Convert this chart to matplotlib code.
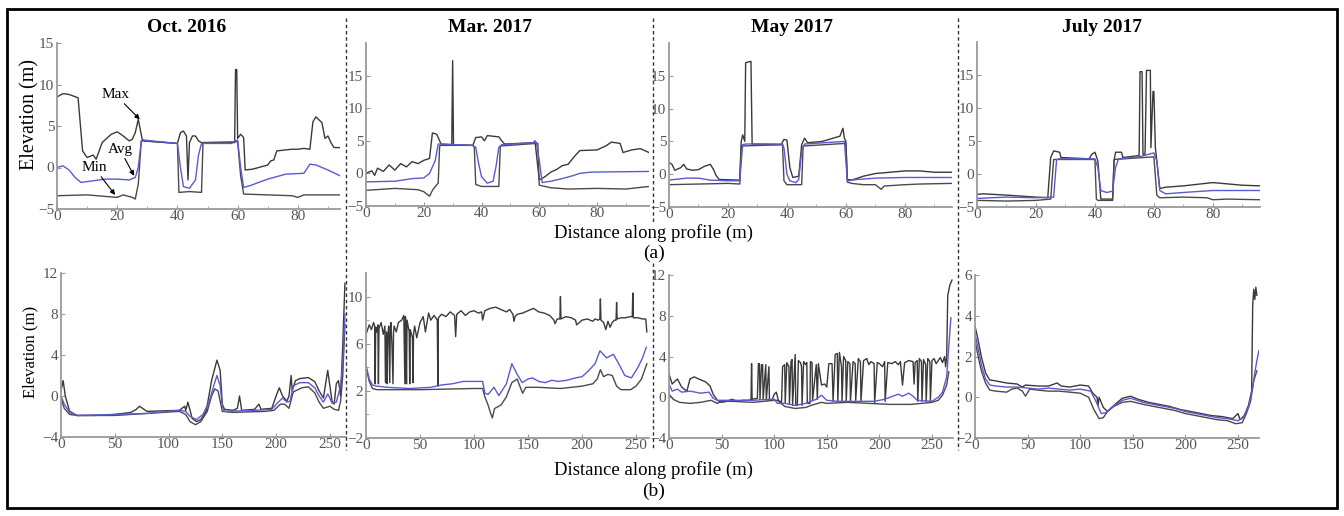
import matplotlib
matplotlib.use('Agg')
import matplotlib.pyplot as plt
from matplotlib.patches import Rectangle
from matplotlib.lines import Line2D

plt.rcParams['font.family'] = ['Liberation Serif', 'DejaVu Serif']

W, H = 1344, 516

# ---------------- (a) short profiles ----------------
oct_a_max_x = [0, 2, 4, 7, 8.5, 10, 12, 13, 15, 18, 20, 22, 24, 25, 26, 27, 27.8, 28.3, 29, 40, 41, 42, 43, 43.5, 44, 45, 46, 47, 48, 59, 59.3, 59.7, 60, 61, 62, 62.5, 65, 70, 71, 72, 73, 78, 80, 82, 84, 85, 86, 88, 89, 90, 91, 92, 94]
oct_a_max_y = [8.5, 8.9, 8.8, 8.4, 2.0, 1.2, 1.5, 1.0, 3.0, 4.0, 4.3, 3.8, 3.2, 3.4, 4.2, 5.8, 4.3, 3.4, 3.2, 2.9, 4.2, 4.4, 3.8, -1.5, 3.0, 3.8, 3.8, 3.2, 3.0, 3.0, 11.8, 11.8, 3.5, 4.0, 3.6, -0.3, -0.2, 0.3, 0.8, 0.9, 2.0, 2.2, 2.2, 2.3, 2.2, 5.5, 6.1, 5.4, 3.5, 3.8, 3.0, 2.4, 2.4]
oct_a_avg_x = [0, 2, 4, 6, 8, 12, 16, 20, 24, 26, 27, 28, 29, 40, 41, 42, 44, 46, 47, 48, 58, 59, 60, 61, 62, 64, 70, 76, 82, 84, 86, 90, 94]
oct_a_avg_y = [0.0, 0.2, -0.3, -1.2, -1.8, -1.6, -1.4, -1.4, -1.5, -1.2, 0.0, 3.2, 3.3, 2.9, 0.0, -2.3, -2.5, -1.5, 1.5, 2.9, 2.9, 3.2, 3.3, 0.0, -2.4, -2.2, -1.4, -0.8, -0.7, 0.4, 0.3, -0.3, -1.0]
oct_a_min_x = [0, 10, 20, 22, 25, 26, 27, 28, 29, 40, 40.5, 44, 48, 48.5, 60, 61, 62, 70, 78, 80, 82, 94]
oct_a_min_y = [-3.4, -3.3, -3.6, -3.3, -3.6, -3.8, -2.0, 3.2, 3.2, 2.9, -3.0, -2.9, -3.0, 3.0, 3.1, -1.0, -3.2, -3.3, -3.4, -3.6, -3.3, -3.3]

mar_a_max_x = [0, 2, 3, 4, 6, 8, 10, 12, 14, 16, 18, 20, 22, 23, 24.5, 26, 29.7, 30, 30.3, 37, 38, 40, 41, 42, 44, 46, 47, 48, 58, 58.5, 60, 62, 64, 66, 68, 70, 72, 74, 80, 83, 85, 88, 89, 92, 95, 98]
mar_a_max_y = [0.0, 0.4, -0.3, 0.8, 0.3, 1.3, 0.5, 1.5, 1.0, 1.8, 1.5, 2.0, 2.3, 6.2, 6.0, 4.5, 4.4, 17.3, 4.4, 4.3, 5.5, 5.6, 5.0, 5.8, 5.7, 5.6, 5.0, 4.5, 4.7, 5.0, -1.0, -0.5, 0.2, 0.6, 1.2, 1.4, 2.5, 3.5, 3.6, 4.2, 4.8, 4.6, 3.2, 3.6, 3.8, 3.2]
mar_a_avg_x = [0, 10, 16, 20, 22, 24, 25, 26, 37, 38, 39, 40, 42, 44, 45, 46, 47, 58, 59, 60, 61, 64, 68, 72, 74, 78, 98]
mar_a_avg_y = [-1.3, -1.2, -0.8, -0.7, 0.0, 2.0, 4.5, 4.5, 4.3, 4.0, 1.5, -0.5, -1.5, -1.2, 1.0, 4.0, 4.4, 4.7, 4.8, 2.0, -1.4, -1.2, -0.8, -0.3, 0.0, 0.2, 0.3]
mar_a_min_x = [0, 10, 18, 20, 22, 23, 24, 25, 25.5, 26, 37, 37.5, 38, 40, 46, 46.5, 59, 59.5, 60, 64, 70, 80, 90, 98]
mar_a_min_y = [-2.6, -2.3, -2.5, -2.8, -3.5, -2.6, -2.0, -1.5, 4.2, 4.3, 4.3, 4.0, -1.7, -2.0, -2.0, 4.2, 4.6, 4.6, -1.8, -2.2, -2.4, -2.3, -2.4, -2.0]

may_a_max_x = [0, 1, 2, 4, 5, 6, 8, 10, 12, 14, 15, 16, 17, 24, 24.5, 25, 25.7, 26, 27.8, 28.2, 38, 39, 40, 41, 42, 44, 45, 46, 47, 52, 58, 59, 59.5, 60, 60.5, 62, 66, 70, 75, 80, 85, 90, 96]
may_a_max_y = [1.8, 1.5, 0.6, 1.0, 1.5, 0.8, 0.6, 0.7, 1.2, 1.5, 0.8, -0.2, -0.8, -0.9, 5.0, 6.0, 5.0, 17.0, 17.2, 4.6, 4.5, 5.3, 5.2, 1.0, -0.5, -0.3, 4.5, 5.5, 4.8, 5.0, 5.8, 7.0, 5.5, 5.0, -0.8, -0.9, -0.3, 0.1, 0.3, 0.5, 0.5, 0.3, 0.3]
may_a_avg_x = [0, 6, 10, 14, 20, 24, 25, 26, 38.5, 39, 40, 41, 43, 44, 45, 46, 59.5, 60.5, 64, 70, 80, 96]
may_a_avg_y = [-0.9, -0.6, -0.6, -0.9, -1.0, -1.0, 4.5, 4.6, 4.6, 4.0, 0.0, -1.0, -1.3, -0.8, 3.5, 4.6, 5.0, -1.0, -0.8, -0.6, -0.5, -0.5]
may_a_min_x = [0, 10, 20, 24, 24.5, 38.5, 39, 40, 45, 45.5, 60, 60.5, 62, 66, 70, 72, 73, 80, 85, 96]
may_a_min_y = [-1.6, -1.5, -1.4, -1.5, 4.3, 4.5, -1.0, -1.6, -1.6, 4.3, 4.7, -1.2, -1.4, -1.6, -1.6, -2.3, -1.8, -1.6, -1.5, -1.4]

jul_a_max_x = [0, 2, 10, 20, 24, 25, 26, 28, 28.5, 38, 39, 40, 41, 42, 46, 46.5, 47, 49, 49.5, 55, 55.3, 56, 56.3, 57, 57.5, 58.8, 59, 59.7, 60, 60.5, 61, 62, 64, 70, 80, 85, 90, 96]
jul_a_max_y = [-3.1, -3.0, -3.2, -3.5, -3.6, 2.5, 3.5, 3.3, 2.5, 2.3, 3.0, 3.3, 2.0, -3.8, -3.8, 2.0, 3.3, 3.3, 2.5, 2.8, 15.5, 15.5, 3.0, 3.0, 15.7, 15.7, 4.0, 12.5, 12.5, 4.0, 2.0, -2.2, -2.0, -1.8, -1.3, -1.5, -1.7, -1.8]
jul_a_avg_x = [0, 10, 20, 26, 27, 28, 40, 41, 42, 44, 46, 47, 48, 55, 60, 61, 62, 64, 70, 80, 96]
jul_a_avg_y = [-3.7, -3.5, -3.6, -3.5, 2.2, 2.3, 2.3, 1.0, -2.5, -2.8, -2.6, 1.0, 2.3, 2.6, 3.2, 2.0, -2.5, -3.0, -2.8, -2.5, -2.5]
jul_a_min_x = [0, 10, 20, 25, 26, 40, 40.5, 41, 46, 46.5, 60, 61, 62, 70, 78, 80, 85, 96]
jul_a_min_y = [-4.0, -4.1, -4.0, -3.8, 2.2, 2.2, -3.8, -4.0, -4.0, 2.2, 2.6, -3.2, -3.6, -3.5, -3.6, -3.9, -3.8, -3.9]

# ---------------- (b) long profiles ----------------
oct_b_max_x = [0, 2, 4, 8, 15, 30, 50, 65, 70, 73, 80, 110, 115, 116, 118, 122, 126, 130, 135, 140, 145, 148, 150, 152, 160, 164, 166, 168, 180, 184, 186, 196, 200, 203, 206, 210, 212, 214, 215, 218, 222, 230, 236, 240, 244, 248, 250, 252, 254, 256, 258, 260, 262, 264]
oct_b_max_y = [0.5, 1.5, 0.0, -1.5, -1.9, -1.9, -1.8, -1.6, -1.3, -1.0, -1.5, -1.4, -1.0, -1.4, -0.6, -2.2, -2.5, -2.3, -1.5, 1.5, 3.5, 2.5, -0.8, -1.3, -1.4, -1.2, 0.0, -1.4, -1.3, -0.8, -1.3, -1.2, 0.0, 0.8, 0.0, -0.5, 0.0, 2.0, 0.5, 1.5, 1.7, 1.8, 1.4, 0.5, -0.2, 2.5, 1.0, -0.5, -0.8, 1.2, 1.5, 0.0, 5.0, 11.0]
oct_b_avg_x = [0, 3, 8, 15, 50, 80, 110, 116, 120, 126, 132, 138, 142, 145, 148, 150, 152, 180, 196, 202, 206, 210, 213, 216, 222, 230, 236, 240, 244, 248, 250, 252, 256, 260, 262, 264]
oct_b_avg_y = [0.0, -0.8, -1.6, -1.9, -1.8, -1.7, -1.4, -1.5, -2.0, -2.3, -1.8, -0.5, 1.0, 2.0, 1.0, -1.0, -1.5, -1.4, -1.3, -0.6, -0.2, -0.6, -0.5, 1.0, 1.3, 1.3, 0.8, 0.0, -0.6, 0.2, -0.2, -0.7, -0.6, 1.0, 3.0, 8.0]
oct_b_min_x = [0, 3, 8, 15, 50, 80, 110, 116, 120, 125, 130, 136, 140, 143, 146, 148, 150, 160, 190, 198, 204, 208, 212, 216, 224, 230, 236, 240, 244, 250, 254, 258, 260, 262, 264]
oct_b_min_y = [-0.2, -1.2, -1.8, -1.9, -1.9, -1.7, -1.5, -1.8, -2.5, -2.8, -2.5, -1.5, 0.0, 0.7, 0.5, -0.5, -1.5, -1.6, -1.5, -1.4, -0.8, -0.8, -1.2, 0.4, 0.8, 0.9, 0.3, -0.6, -1.2, -1.0, -1.3, -1.4, -0.5, 2.0, 7.0]

mar_b_max_x = [0, 3, 5, 7, 8, 8.5, 9, 10, 11, 11.5, 12, 14, 16, 17.5, 18, 19, 19.5, 20, 21, 22, 22.5, 23, 24, 25, 25.5, 26, 28, 30, 33, 35, 36, 36.5, 37, 37.5, 38, 40, 40.5, 41, 43, 43.5, 44, 45, 47, 50, 53, 55, 58, 60, 63, 66, 66.5, 67, 70, 74, 78, 82, 83, 84, 88, 92, 96, 100, 104, 107, 108, 110, 115, 120, 125, 130, 133, 136, 137, 138, 140, 145, 150, 155, 160, 165, 170, 174, 175, 177, 179.5, 180, 180.5, 185, 190, 194, 195, 200, 205, 210, 212, 215, 216.5, 217, 217.5, 220, 222, 224, 226, 228, 230, 231.5, 232, 232.5, 236, 240, 245, 246.5, 247, 247.5, 252, 256, 259, 260]
mar_b_max_y = [6.8, 7.6, 7.2, 7.8, 7.5, 2.6, 7.4, 7.0, 7.6, 2.6, 7.3, 7.8, 6.8, 7.5, 2.7, 7.0, 2.6, 6.5, 7.5, 2.7, 7.2, 7.8, 6.0, 2.6, 7.0, 7.5, 7.0, 7.8, 8.0, 8.4, 2.6, 8.3, 7.5, 2.6, 8.0, 7.0, 2.6, 7.2, 6.5, 2.7, 6.8, 7.5, 6.5, 7.8, 8.3, 7.0, 8.6, 8.0, 8.4, 8.0, 2.4, 8.2, 8.5, 8.3, 8.7, 8.4, 6.6, 8.5, 8.8, 8.4, 8.7, 8.8, 8.6, 8.7, 8.0, 8.8, 9.0, 9.1, 8.9, 8.7, 8.9, 8.5, 7.9, 8.3, 8.5, 8.6, 8.8, 9.0, 8.7, 8.6, 8.4, 8.0, 7.7, 8.1, 8.1, 10.0, 8.1, 8.3, 8.2, 8.0, 7.6, 8.0, 8.1, 7.9, 8.1, 8.0, 8.1, 9.8, 8.0, 7.8, 7.2, 7.9, 7.4, 7.8, 8.0, 8.0, 9.5, 8.1, 8.2, 8.2, 8.3, 8.3, 10.3, 8.2, 8.2, 8.1, 8.1, 7.0]
mar_b_avg_x = [0, 3, 6, 10, 20, 40, 60, 70, 80, 90, 100, 108, 110, 113, 118.5, 123, 130, 135, 140, 144.6, 150, 154, 160, 166, 172, 178, 186, 194, 200, 206, 212, 216.6, 222.7, 229, 234, 239.6, 245.7, 251.8, 256, 259.5]
mar_b_avg_y = [4.2, 3.0, 2.5, 2.4, 2.3, 2.2, 2.3, 2.5, 2.6, 2.8, 2.8, 2.8, 1.8, 1.7, 2.3, 1.6, 2.6, 4.3, 3.4, 2.7, 3.0, 3.1, 2.8, 2.7, 2.9, 2.8, 2.9, 3.1, 3.2, 3.7, 4.3, 5.4, 4.8, 5.1, 4.3, 3.3, 3.1, 4.0, 4.8, 5.7]
mar_b_min_x = [0, 3, 6, 10, 50, 100, 108, 110, 113, 115, 117, 119, 125, 130, 135, 140, 142, 145, 148, 160, 180, 200, 210, 214, 217, 220, 224, 228, 232, 236, 245, 250, 255, 260]
mar_b_min_y = [4.0, 2.8, 2.2, 2.1, 2.1, 2.2, 2.2, 1.5, 0.8, 0.2, -0.3, 0.5, 0.8, 1.5, 2.7, 3.0, 2.5, 1.8, 2.3, 2.3, 2.2, 2.4, 2.6, 3.0, 3.8, 3.2, 3.4, 3.3, 2.4, 2.1, 2.1, 2.4, 3.0, 4.3]

may_b_max_x = [0, 3, 8, 12, 17, 20, 24, 28, 35, 39, 42, 46, 50, 55, 60, 65, 70, 76, 78, 78.5, 79, 84, 85, 86, 86.5, 88, 89, 89.5, 92, 92.5, 95, 95.5, 98, 100, 102, 104, 107, 108, 110, 110.5, 112, 114, 114.5, 116, 117, 117.5, 120, 120.5, 122, 123, 125, 126, 126.5, 128, 130, 131, 131.5, 134, 134.5, 136, 136.5, 140, 141, 142, 145, 148, 150, 152, 155, 156, 158, 160, 160.5, 162, 164, 164.5, 166, 168, 168.5, 170, 172, 172.5, 175, 177, 177.5, 180, 182, 182.5, 185, 188, 190, 192, 195, 195.5, 198, 200, 203, 205, 205.5, 208, 212, 215, 218, 220, 222, 224, 228, 232, 233, 234, 236, 236.5, 238, 240, 240.5, 242, 244, 244.5, 246, 248, 248.5, 250, 252, 254, 256, 258, 260, 262, 263, 264, 265, 267, 269]
may_b_max_y = [2.3, 1.3, 1.8, 1.0, 0.6, 1.8, 2.0, 1.8, 1.5, 1.1, 0.3, -0.3, -0.5, -0.4, -0.2, -0.4, -0.3, -0.3, -0.2, 3.3, -0.2, -0.1, 3.3, 3.3, -0.2, 3.2, 3.2, -0.2, 3.2, -0.3, 3.0, -0.3, -0.3, 0.3, 0.5, -0.3, -0.5, 3.0, 3.2, -0.6, 3.4, 3.0, -0.7, 3.5, 3.7, -0.8, 4.2, -0.8, -0.8, 3.6, 3.4, 3.0, -0.8, 3.5, 3.2, 3.4, -0.6, -0.6, 3.5, 3.4, -0.3, 3.2, -0.2, 3.3, 1.2, 1.3, 1.0, 3.3, 3.3, -0.4, 4.2, 4.3, -0.4, 4.4, 3.0, -0.4, 4.0, 3.6, -0.4, 3.5, 3.3, -0.4, 3.5, 3.3, -0.3, 3.8, 3.5, -0.4, 3.6, 3.8, 3.2, 3.5, 3.3, -0.6, 3.4, 3.3, 3.0, 3.5, -0.4, 3.4, 3.3, 3.5, 3.2, 3.5, 1.2, 3.4, 3.6, 3.5, 1.3, 3.4, 3.6, -0.4, 3.8, 3.5, -0.4, 3.7, 3.2, -0.4, 3.8, 3.5, -0.4, 3.6, 3.8, 3.3, 3.6, 3.9, 3.4, 4.0, 3.0, 4.0, 10.0, 11.0, 11.5]
may_b_avg_x = [0, 3, 8, 12, 20, 30, 38, 42, 46, 60, 80, 95, 100, 103, 110, 120, 130, 140, 145, 150, 160, 180, 195, 205, 210, 218, 222, 228, 232, 236, 250, 256, 260, 264, 266, 268]
may_b_avg_y = [1.3, 0.6, 0.8, 0.5, 0.6, 0.4, 0.5, -0.1, -0.3, -0.3, -0.3, -0.2, -0.2, -0.6, -0.6, -0.8, -0.6, -0.2, 0.2, -0.3, -0.4, -0.4, -0.4, -0.2, 0.0, 0.3, 0.1, 0.4, 0.1, -0.3, -0.4, 0.0, 0.5, 2.0, 5.0, 7.8]
may_b_min_x = [0, 4, 10, 20, 30, 40, 46, 50, 60, 80, 100, 103, 110, 120, 130, 135, 145, 150, 170, 190, 210, 230, 240, 250, 256, 260, 264, 266]
may_b_min_y = [0.3, -0.2, -0.5, -0.6, -0.5, -0.3, -0.6, -0.4, -0.4, -0.5, -0.3, -0.3, -0.9, -1.1, -1.0, -0.8, -0.5, -0.6, -0.5, -0.6, -0.7, -0.7, -0.6, -0.5, -0.3, 0.2, 1.2, 2.5]

jul_b_max_x = [0, 3, 6, 10, 14, 20, 30, 40, 45, 48, 60, 70, 78, 82, 90, 100, 108, 112, 116, 117, 118, 122, 126, 132, 140, 148, 155, 165, 175, 185, 195, 205, 215, 225, 235, 245, 250, 252, 256, 260, 263, 264, 265, 266, 267, 268]
jul_b_max_y = [3.5, 2.8, 2.0, 1.2, 0.85, 0.8, 0.7, 0.65, 0.5, 0.6, 0.55, 0.55, 0.7, 0.55, 0.5, 0.6, 0.55, 0.2, 0.0, -0.4, 0.0, -0.5, -0.7, -0.4, -0.05, 0.05, -0.1, -0.25, -0.35, -0.45, -0.6, -0.7, -0.8, -0.9, -0.95, -1.05, -0.8, -1.1, -0.9, -0.4, 0.3, 4.5, 5.3, 4.8, 5.4, 5.0]
jul_b_avg_x = [0, 3, 6, 10, 14, 20, 30, 40, 50, 60, 70, 80, 90, 100, 110, 115, 120, 125, 130, 140, 148, 160, 170, 180, 190, 200, 210, 220, 230, 240, 250, 255, 260, 264, 266, 268, 270]
jul_b_avg_y = [3.1, 2.4, 1.6, 0.9, 0.6, 0.55, 0.5, 0.5, 0.45, 0.4, 0.45, 0.4, 0.35, 0.4, 0.3, -0.2, -0.8, -0.75, -0.5, -0.15, -0.05, -0.25, -0.35, -0.45, -0.55, -0.7, -0.8, -0.9, -1.0, -1.05, -1.15, -1.0, -0.5, 0.5, 1.2, 1.8, 2.3]
jul_b_min_x = [0, 3, 6, 10, 14, 20, 30, 35, 40, 45, 48, 52, 60, 70, 80, 90, 100, 108, 113, 118, 122, 126, 132, 140, 148, 160, 170, 180, 190, 200, 210, 220, 230, 240, 248, 254, 258, 262, 265, 268]
jul_b_min_y = [2.8, 2.0, 1.3, 0.7, 0.35, 0.3, 0.25, 0.4, 0.45, 0.3, 0.05, 0.4, 0.35, 0.3, 0.3, 0.25, 0.2, 0.0, -0.6, -1.05, -1.0, -0.7, -0.45, -0.25, -0.2, -0.35, -0.45, -0.55, -0.65, -0.8, -0.9, -1.0, -1.1, -1.15, -1.3, -1.25, -0.8, -0.2, 0.8, 1.3]

titles = ['Oct. 2016', 'Mar. 2017', 'May 2017', 'July 2017']

MAX_C = '#3a3a3a'
MIN_C = '#4a4a4a'
AVG_C = '#5a5ad2'

fig = plt.figure(figsize=(W / 100, H / 100), dpi=100)


def px_axes(x0, x1, ytop, ybot):
    return fig.add_axes([x0 / W, 1 - ybot / H, (x1 - x0) / W, (ybot - ytop) / H])


def style(ax, xlim, ylim, xticks, yticks, xminor=None, yminor=None):
    ax.set_xlim(*xlim)
    ax.set_ylim(*ylim)
    ax.set_xticks(xticks)
    ax.set_yticks(yticks)
    if xminor is not None:
        ax.set_xticks(xminor, minor=True)
    if yminor is not None:
        ax.set_yticks(yminor, minor=True)
    ax.patch.set_alpha(0)
    for s in ['top', 'right']:
        ax.spines[s].set_visible(False)
    for s in ['left', 'bottom']:
        ax.spines[s].set_color('#9a9a9a')
        ax.spines[s].set_linewidth(1.3)
    ax.tick_params(which='both', direction='in', color='#9a9a9a', labelcolor='#555555',
                   labelsize=11)
    ax.tick_params(axis='x', pad=1)
    ax.tick_params(axis='y', pad=2)
    ax.tick_params(which='major', length=3)
    ax.tick_params(which='minor', length=2)


def draw(ax, mx, my, ax_, ay, nx, ny):
    ax.plot(mx, my, color=MAX_C, lw=1.0)
    ax.plot(nx, ny, color=MIN_C, lw=1.0)
    ax.plot(ax_, ay, color=AVG_C, lw=1.0)


# top row
a1 = px_axes(57, 340, 43, 209)
draw(a1, oct_a_max_x, oct_a_max_y, oct_a_avg_x, oct_a_avg_y, oct_a_min_x, oct_a_min_y)
style(a1, (0, 94), (-5, 15), [0, 20, 40, 60, 80], [-5, 0, 5, 10, 15], [10, 30, 50, 70, 90])

a2 = px_axes(366, 649, 43, 206)
draw(a2, mar_a_max_x, mar_a_max_y, mar_a_avg_x, mar_a_avg_y, mar_a_min_x, mar_a_min_y)
style(a2, (0, 98), (-5, 20), [0, 20, 40, 60, 80], [-5, 0, 5, 10, 15], [10, 30, 50, 70, 90])

a3 = px_axes(669, 952, 43, 207)
draw(a3, may_a_max_x, may_a_max_y, may_a_avg_x, may_a_avg_y, may_a_min_x, may_a_min_y)
style(a3, (0, 96), (-5, 20), [0, 20, 40, 60, 80], [-5, 0, 5, 10, 15], [10, 30, 50, 70, 90])

a4 = px_axes(977, 1260, 42, 207)
draw(a4, jul_a_max_x, jul_a_max_y, jul_a_avg_x, jul_a_avg_y, jul_a_min_x, jul_a_min_y)
style(a4, (0, 96), (-5, 20), [0, 20, 40, 60, 80], [-5, 0, 5, 10, 15], [10, 30, 50, 70, 90])

# bottom row
b1 = px_axes(61, 346, 273, 437)
draw(b1, oct_b_max_x, oct_b_max_y, oct_b_avg_x, oct_b_avg_y, oct_b_min_x, oct_b_min_y)
style(b1, (0, 265), (-4, 12), [0, 50, 100, 150, 200, 250], [-4, 0, 4, 8, 12])

b2 = px_axes(366, 649, 273, 438)
draw(b2, mar_b_max_x, mar_b_max_y, mar_b_avg_x, mar_b_avg_y, mar_b_min_x, mar_b_min_y)
style(b2, (0, 262), (-2, 12), [0, 50, 100, 150, 200, 250], [-2, 2, 6, 10], yminor=[0, 4, 8])

b3 = px_axes(669, 953, 275, 438)
draw(b3, may_b_max_x, may_b_max_y, may_b_avg_x, may_b_avg_y, may_b_min_x, may_b_min_y)
style(b3, (0, 270), (-4, 12), [0, 50, 100, 150, 200, 250], [-4, 0, 4, 8, 12])

b4 = px_axes(975, 1259, 275, 438)
draw(b4, jul_b_max_x, jul_b_max_y, jul_b_avg_x, jul_b_avg_y, jul_b_min_x, jul_b_min_y)
style(b4, (0, 270), (-2, 6), [0, 50, 100, 150, 200, 250], [-2, 0, 2, 4, 6])

# Max / Avg / Min callouts
arrow = dict(arrowstyle='-|>', color='black', lw=0.8, mutation_scale=7, shrinkA=0, shrinkB=0)
a1.annotate('Max', xy=(27.5, 5.8), xytext=(19.3, 8.8), fontsize=11, ha='center', va='center',
            arrowprops=arrow)
a1.annotate('Avg', xy=(25.6, -1.0), xytext=(20.9, 2.2), fontsize=11, ha='center', va='center',
            arrowprops=arrow)
a1.annotate('Min', xy=(19.3, -3.3), xytext=(12.3, 0.0), fontsize=11, ha='center', va='center',
            arrowprops=arrow)

# titles and labels
title_x = [187, 490, 792, 1102]
for t, x in zip(titles, title_x):
    fig.text(x / W, 1 - 28 / H, t, ha='center', va='center', fontsize=14, fontweight='bold')

fig.text(30 / W, 1 - 114 / H, 'Elevation (m)', rotation=90, ha='center', va='center', fontsize=14.5)
fig.text(30 / W, 1 - 352 / H, 'Elevation (m)', rotation=90, ha='center', va='center', fontsize=12)
fig.text(654 / W, 1 - 233 / H, 'Distance along profile (m)', ha='center', va='center', fontsize=13.5)
fig.text(654 / W, 1 - 253 / H, '(a)', ha='center', va='center', fontsize=14)
fig.text(654 / W, 1 - 470 / H, 'Distance along profile (m)', ha='center', va='center', fontsize=13.5)
fig.text(654 / W, 1 - 491 / H, '(b)', ha='center', va='center', fontsize=14)

# dashed separators
def vline(x, y0, y1):
    fig.add_artist(Line2D([x / W, x / W], [1 - y0 / H, 1 - y1 / H], color='#333333',
                          lw=1.0, ls=(0, (2.5, 2))))

vline(346, 18, 450)
vline(653, 18, 222)
vline(653, 263, 450)
vline(958, 18, 450)

# outer frame
fig.add_artist(Rectangle((7 / W, 1 - 508 / H), 1330 / W, 499 / H, fill=False,
                         edgecolor='black', lw=2, transform=fig.transFigure))

fig.savefig('out.png', dpi=100)
